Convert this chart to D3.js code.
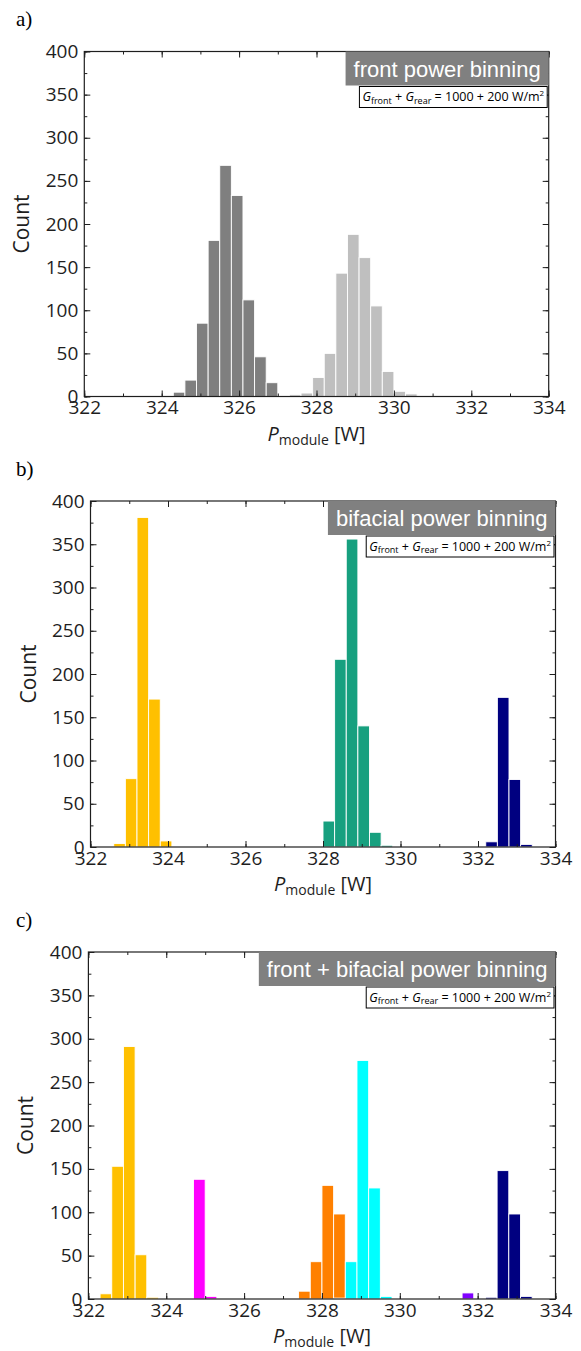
<!DOCTYPE html>
<html>
<head>
<meta charset="utf-8">
<script src="https://cdn.jsdelivr.net/npm/d3@7"></script>
<style>
  body { margin: 0; background: #fff; }
  svg { display: block; }
</style>
</head>
<body>
<script>
// histogram data, bin width 0.3 W, first bin left edge + counts
var binWidth = 0.3;

var xTicksMajor = [322, 324, 326, 328, 330, 332, 334];
var yTicksMajor = [0, 50, 100, 150, 200, 250, 300, 350, 400];

// a) front power binning
var aLowStart = 324.3,  aLowCounts = [5, 19, 85, 181, 268, 233, 112, 46, 16];
var aHighStart = 327.3, aHighCounts = [2, 4, 22, 50, 143, 188, 161, 105, 29, 6, 3];

// b) bifacial power binning
var bYellowStart = 322.6, bYellowCounts = [4, 79, 381, 171, 7];
var bTealStart = 328.0,   bTealCounts = [30, 217, 356, 140, 17, 2];
var bNavyStart = 332.2,   bNavyCounts = [6, 173, 78, 3];

// c) front + bifacial power binning
var cYellowStart = 322.3,  cYellowCounts = [6, 153, 291, 51, 2];
var cMagentaStart = 324.7, cMagentaCounts = [138, 3];
var cOrangeStart = 327.4,  cOrangeCounts = [9, 43, 131, 98];
var cCyanStart = 328.3,    cCyanCounts = [1, 43, 275, 128, 3];
var cVioletStart = 331.6,  cVioletCounts = [7];
var cNavyStart = 332.2,    cNavyCounts = [2, 148, 98, 3];

var panels = [
  {label: "a)", title: "front power binning",
   left: 84.3, right: 548.7, top: 51.5, bottom: 396.5,
   series: [
     {start: aLowStart, counts: aLowCounts, color: "#7f7f7f"},
     {start: aHighStart, counts: aHighCounts, color: "#bfbfbf"}]},
  {label: "b)", title: "bifacial power binning",
   left: 90.5, right: 555.5, top: 501, bottom: 847,
   series: [
     {start: bYellowStart, counts: bYellowCounts, color: "#ffc000"},
     {start: bTealStart, counts: bTealCounts, color: "#17a07f"},
     {start: bNavyStart, counts: bNavyCounts, color: "#000080"}]},
  {label: "c)", title: "front + bifacial power binning",
   left: 88.4, right: 555.5, top: 952, bottom: 1299,
   series: [
     {start: cYellowStart, counts: cYellowCounts, color: "#ffc000"},
     {start: cMagentaStart, counts: cMagentaCounts, color: "#ff00ff"},
     {start: cOrangeStart, counts: cOrangeCounts, color: "#ff8000"},
     {start: cCyanStart, counts: cCyanCounts, color: "#00ffff"},
     {start: cVioletStart, counts: cVioletCounts, color: "#8000ff"},
     {start: cNavyStart, counts: cNavyCounts, color: "#000080"}]}
];

var svg = d3.select("body").append("svg").attr("width", 581).attr("height", 1351);
var tickFont = "'Open Sans', 'DejaVu Sans', sans-serif";
var ink = "#1e1e1e";

panels.forEach(function(p) {
    var x = d3.scaleLinear().domain([322, 334]).range([p.left, p.right]);
    var y = d3.scaleLinear().domain([0, 400]).range([p.bottom, p.top]);
    var g = svg.append("g");

    // bars
    p.series.forEach(function(s) {
        var bins = s.counts.map(function(c, i) {
            return {x0: s.start + i * binWidth, x1: s.start + (i + 1) * binWidth, n: c};
        });
        g.append("g").selectAll("rect")
            .data(bins)
            .enter().append("rect")
            .attr("x", function(d) { return x(d.x0); })
            .attr("width", function(d) { return x(d.x1) - x(d.x0); })
            .attr("y", function(d) { return y(d.n); })
            .attr("height", function(d) { return y(0) - y(d.n); })
            .attr("fill", s.color)
            .attr("stroke", "#fff")
            .attr("stroke-width", 0.9);
    });

    // axes, ticks pointing inward on all four sides
    var xMinor = d3.range(322, 335, 1), yMinor = d3.range(0, 401, 25);
    function axisStyle(sel) {
        sel.select(".domain").remove();
        sel.selectAll("line").attr("stroke", ink);
        sel.selectAll("text").attr("fill", ink).style("font-family", tickFont).style("font-size", "19px");
    }
    g.append("g").attr("transform", "translate(0," + p.bottom + ")")
        .call(d3.axisBottom(x).tickValues(xMinor).tickSize(-3).tickFormat("")).call(axisStyle);
    g.append("g").attr("transform", "translate(0," + p.bottom + ")")
        .call(d3.axisBottom(x).tickValues(xTicksMajor).tickSize(-6).tickPadding(4).tickFormat(d3.format("d")))
        .call(axisStyle);
    g.append("g").attr("transform", "translate(0," + p.top + ")")
        .call(d3.axisTop(x).tickValues(xMinor).tickSize(-3).tickFormat("")).call(axisStyle);
    g.append("g").attr("transform", "translate(0," + p.top + ")")
        .call(d3.axisTop(x).tickValues(xTicksMajor).tickSize(-6).tickFormat("")).call(axisStyle);
    g.append("g").attr("transform", "translate(" + p.left + ",0)")
        .call(d3.axisLeft(y).tickValues(yMinor).tickSize(-3).tickFormat("")).call(axisStyle);
    g.append("g").attr("transform", "translate(" + p.left + ",0)")
        .call(d3.axisLeft(y).tickValues(yTicksMajor).tickSize(-6).tickPadding(6).tickFormat(d3.format("d")))
        .call(axisStyle);
    g.append("g").attr("transform", "translate(" + p.right + ",0)")
        .call(d3.axisRight(y).tickValues(yMinor).tickSize(-3).tickFormat("")).call(axisStyle);
    g.append("g").attr("transform", "translate(" + p.right + ",0)")
        .call(d3.axisRight(y).tickValues(yTicksMajor).tickSize(-6).tickFormat("")).call(axisStyle);

    // frame
    g.append("rect")
        .attr("x", p.left).attr("y", p.top)
        .attr("width", p.right - p.left).attr("height", p.bottom - p.top)
        .attr("fill", "none").attr("stroke", ink).attr("stroke-width", 1.2);

    // axis titles
    g.append("text")
        .attr("transform", "translate(" + (p.left - 55) + "," + ((p.top + p.bottom) / 2) + ") rotate(-90)")
        .attr("text-anchor", "middle")
        .style("font-family", tickFont).style("font-size", "21px").attr("fill", ink)
        .text("Count");
    var xt = g.append("text")
        .attr("x", (p.left + p.right) / 2).attr("y", p.bottom + 44)
        .attr("text-anchor", "middle")
        .style("font-family", tickFont).style("font-size", "20px").attr("fill", ink);
    xt.append("tspan").style("font-style", "italic").text("P");
    xt.append("tspan").style("font-size", "14px").attr("dy", 4).text("module");
    xt.append("tspan").attr("dy", -4).text(" [W]");

    // panel letter
    svg.append("text")
        .attr("x", 16).attr("y", p.top - 25.5)
        .style("font-family", "'Liberation Serif', 'Times New Roman', serif").style("font-size", "21px")
        .attr("fill", "#000")
        .text(p.label);

    // grey title box
    var tb = g.append("g");
    var tt = tb.append("text")
        .attr("y", p.top + 25)
        .attr("text-anchor", "middle")
        .style("font-family", "'Liberation Sans', Arial, sans-serif").style("font-size", "22px")
        .attr("fill", "#fff")
        .text(p.title);
    var tw = tt.node().getComputedTextLength() + 16;
    tb.insert("rect", "text")
        .attr("x", p.right - tw).attr("y", p.top)
        .attr("width", tw).attr("height", 34)
        .attr("fill", "#808080");
    tt.attr("x", p.right - tw / 2);

    // irradiance box
    var ib = g.append("g");
    var it = ib.append("text")
        .attr("y", p.top + 49.5)
        .style("font-family", tickFont).style("font-size", "12.5px").attr("fill", "#000");
    it.append("tspan").style("font-style", "italic").text("G");
    it.append("tspan").style("font-size", "9px").attr("dy", 2.5).text("front");
    it.append("tspan").attr("dy", -2.5).text(" + ");
    it.append("tspan").style("font-style", "italic").text("G");
    it.append("tspan").style("font-size", "9px").attr("dy", 2.5).text("rear");
    it.append("tspan").attr("dy", -2.5).text(" = 1000 + 200 W/m");
    it.append("tspan").style("font-size", "8px").attr("dy", -5).text("2");
    var iw = it.node().getComputedTextLength() + 6;
    ib.insert("rect", "text")
        .attr("x", p.right - 1.5 - iw).attr("y", p.top + 35)
        .attr("width", iw).attr("height", 21)
        .attr("fill", "#fff").attr("stroke", "#000").attr("stroke-width", 1);
    it.attr("x", p.right - 1.5 - iw + 3);
});
</script>
</body>
</html>
